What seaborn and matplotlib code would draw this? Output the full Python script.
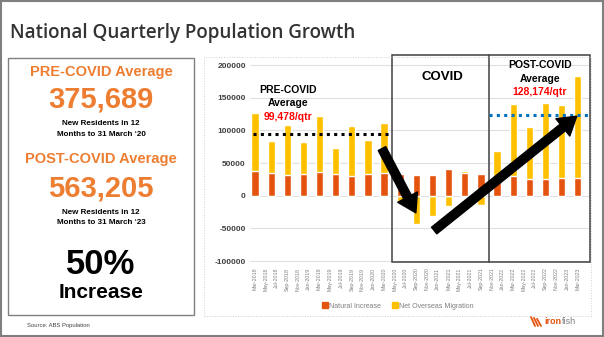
import numpy as np
import pandas as pd
import matplotlib
matplotlib.use("Agg")
import matplotlib.pyplot as plt
import seaborn as sns
from matplotlib.patches import Rectangle, FancyArrowPatch
from matplotlib.lines import Line2D

# ---------------- data ----------------
quarters = ["Mar-2018", "Jun-2018", "Sep-2018", "Dec-2018", "Mar-2019", "Jun-2019",
            "Sep-2019", "Dec-2019", "Mar-2020", "Jun-2020", "Sep-2020", "Dec-2020",
            "Mar-2021", "Jun-2021", "Sep-2021", "Dec-2021", "Mar-2022", "Jun-2022",
            "Sep-2022", "Dec-2022", "Mar-2023"]
natural_increase = [37800, 34700, 31100, 33700, 35700, 32700, 30100, 32700, 34200,
                    33200, 32100, 31600, 41300, 34200, 33200,
                    30600, 29600, 26000, 26000, 27000, 27000]
net_overseas_migration = [88200, 49300, 76600, 48400, 86700, 40300, 76500, 53000, 77000,
                          -10700, -43900, -31100, -15800, 3600, -14800,
                          37300, 110200, 78600, 115300, 111300, 155700]
tick_labels = ["Mar-2018", "May-2018", "Jul-2018", "Sep-2018", "Nov-2018", "Jan-2019",
               "Mar-2019", "May-2019", "Jul-2019", "Sep-2019", "Nov-2019", "Jan-2020",
               "Mar-2020", "May-2020", "Jul-2020", "Sep-2020", "Nov-2020", "Jan-2021",
               "Mar-2021", "May-2021", "Jul-2021", "Sep-2021", "Nov-2021", "Jan-2022",
               "Mar-2022", "May-2022", "Jul-2022", "Sep-2022", "Nov-2022", "Jan-2023",
               "Mar-2023"]
y_ticks = [-100000, -50000, 0, 50000, 100000, 150000, 200000]
pre_covid_avg_label = "99,478/qtr"
post_covid_avg_label = "128,174/qtr"
pre_covid_line_level = 94000
post_covid_line_level = 123000

# ---------------- helpers ----------------
W, H = 604, 337
def fx(px):
    return px / W
def fy(py):
    return 1 - py / H

def month_index(label, origin="Mar-2018"):
    d = pd.to_datetime(label, format="%b-%Y")
    o = pd.to_datetime(origin, format="%b-%Y")
    return (d.year - o.year) * 12 + (d.month - o.month)

q_pos = np.array([month_index(q) for q in quarters], dtype=float)
t_pos = np.array([month_index(t) for t in tick_labels], dtype=float)
nat = np.array(natural_increase, dtype=float)
mig = np.array(net_overseas_migration, dtype=float)
yellow_top = np.where(mig > 0, nat + mig, mig)

df = pd.DataFrame({"pos": q_pos, "nat": nat, "yellow": yellow_top})

ORANGE_RED = "#E4540F"
GOLD = "#FFC000"
PANEL_ORANGE = "#ED7D31"

sns.set_theme(style="white")
plt.rcParams["font.family"] = ["Liberation Sans", "DejaVu Sans"]

fig = plt.figure(figsize=(W / 100, H / 100), dpi=100)
fig.patch.set_facecolor("white")

ax_left, ax_right, ax_top, ax_bottom = 250, 590, 55, 262
ax = fig.add_axes([fx(ax_left), fy(ax_bottom), (ax_right - ax_left) / W, (ax_bottom - ax_top) / H])

sns.barplot(data=df, x="pos", y="yellow", native_scale=True, color=GOLD, saturation=1,
            width=0.45, errorbar=None, ax=ax, zorder=2)
sns.barplot(data=df, x="pos", y="nat", native_scale=True, color=ORANGE_RED, saturation=1,
            width=0.45, errorbar=None, ax=ax, zorder=3)

xmin = (ax_left - 255) / 5.38
xmax = (ax_right - 255) / 5.38
ax.set_xlim(xmin, xmax)
ax.set_ylim(-101500, 215500)
for s in ax.spines.values():
    s.set_visible(False)
ax.set_yticks(y_ticks)
ax.set_yticklabels([str(v) for v in y_ticks], fontsize=6, fontweight="bold", color="#404040")
ax.set_xticks(t_pos)
ax.set_xticklabels(tick_labels, rotation=90, fontsize=3.8, color="#7F7F7F")
ax.tick_params(axis="both", length=0, pad=3)
ax.tick_params(axis="x", pad=4)
ax.set_xlabel("")
ax.set_ylabel("")
for v in y_ticks:
    ax.axhline(v, xmin=0, xmax=1, color="#E0E0E0", lw=0.8, zorder=0)

# COVID box
covid_start = (q_pos[8] + q_pos[9]) / 2
covid_end = (q_pos[14] + q_pos[15]) / 2
ax.add_patch(Rectangle((covid_start, -101500), xmax - covid_start, 215500 + 101500,
                       fill=False, edgecolor="#404040", lw=1.1, zorder=5, clip_on=False))
ax.plot([covid_end, covid_end], [-101500, 215500], color="#404040", lw=1.1, zorder=5, clip_on=False)

# average lines
ax.plot([q_pos[0] - 0.4, covid_start], [pre_covid_line_level] * 2, color="black",
        lw=2.2, ls=(0, (1, 1.4)), zorder=6)
ax.plot([covid_end, xmax], [post_covid_line_level] * 2, color="#0070C0",
        lw=2.2, ls=(0, (1, 1.4)), zorder=6)

# arrows
arrow_style = "simple,head_width=1.0,head_length=0.8,tail_width=0.38"
a1 = FancyArrowPatch((23.6, 72200), (29.9, -26200), arrowstyle=arrow_style,
                     mutation_scale=16, color="black", shrinkA=0, shrinkB=0, zorder=7)
a2 = FancyArrowPatch((33.3, -53300), (59.8, 121700), arrowstyle=arrow_style,
                     mutation_scale=16, color="black", shrinkA=0, shrinkB=0, zorder=7)
ax.add_patch(a1)
ax.add_patch(a2)

# in-chart annotations (figure pixel coords)
fig.text(fx(288), fy(90), "PRE-COVID", ha="center", va="center", fontsize=7.5, fontweight="bold", color="black")
fig.text(fx(288), fy(103), "Average", ha="center", va="center", fontsize=7.5, fontweight="bold", color="black")
fig.text(fx(288), fy(117), pre_covid_avg_label, ha="center", va="center", fontsize=7.5, fontweight="bold", color="#FF0000")
fig.text(fx(442), fy(77), "COVID", ha="center", va="center", fontsize=9.5, fontweight="bold", color="black")
fig.text(fx(540), fy(65), "POST-COVID", ha="center", va="center", fontsize=7.5, fontweight="bold", color="black")
fig.text(fx(540), fy(79), "Average", ha="center", va="center", fontsize=7.5, fontweight="bold", color="black")
fig.text(fx(540), fy(92), post_covid_avg_label, ha="center", va="center", fontsize=7.5, fontweight="bold", color="#FF0000")

# legend
handles = [Rectangle((0, 0), 1, 1, color=ORANGE_RED), Rectangle((0, 0), 1, 1, color=GOLD)]
leg = fig.legend(handles, ["Natural Increase", "Net Overseas Migration"], loc="center",
                 bbox_to_anchor=(fx(398), fy(306)), ncol=2, frameon=False, fontsize=5,
                 handlelength=0.8, handleheight=0.8, handletextpad=0.2, columnspacing=1.6)
for t in leg.get_texts():
    t.set_color("#7F7F7F")

# title
fig.text(fx(10), fy(33), "National Quarterly Population Growth", ha="left", va="center",
         fontsize=13.5, fontweight="semibold", color="#333333", family=["Open Sans", "DejaVu Sans"])

# left panel
cx = 101
fig.text(fx(cx), fy(72), "PRE-COVID Average", ha="center", va="center", fontsize=10.5, color=PANEL_ORANGE, fontweight="bold")
fig.text(fx(cx), fy(100), "375,689", ha="center", va="center", fontsize=21, color=PANEL_ORANGE, fontweight="bold")
fig.text(fx(cx), fy(123), "New Residents in 12", ha="center", va="center", fontsize=5.8, color="black", fontweight="bold")
fig.text(fx(cx), fy(134), "Months to 31 March \u201820", ha="center", va="center", fontsize=5.8, color="black", fontweight="bold")
fig.text(fx(cx), fy(159), "POST-COVID Average", ha="center", va="center", fontsize=10.5, color=PANEL_ORANGE, fontweight="bold")
fig.text(fx(cx), fy(188), "563,205", ha="center", va="center", fontsize=21, color=PANEL_ORANGE, fontweight="bold")
fig.text(fx(cx), fy(212), "New Residents in 12", ha="center", va="center", fontsize=5.8, color="black", fontweight="bold")
fig.text(fx(cx), fy(223), "Months to 31 March \u201823", ha="center", va="center", fontsize=5.8, color="black", fontweight="bold")
fig.text(fx(cx), fy(265), "50%", ha="center", va="center", fontsize=25, color="black", fontweight="bold")
fig.text(fx(cx), fy(293), "Increase", ha="center", va="center", fontsize=15, color="black", fontweight="bold")
fig.text(fx(27), fy(326), "Source: ABS Population", ha="left", va="center", fontsize=4.2, color="#404040")

# boxes / frames
fig.add_artist(Rectangle((fx(8), fy(315)), (194 - 8) / W, (315 - 58) / H, transform=fig.transFigure,
                         fill=False, edgecolor="#808080", lw=1))
fig.add_artist(Rectangle((fx(204), fy(316)), (591 - 204) / W, (316 - 57) / H, transform=fig.transFigure,
                         fill=False, edgecolor="#D0D0D0", lw=0.7, ls=":"))
fig.add_artist(Rectangle((0.001, 0.002), 0.997, 0.995, transform=fig.transFigure,
                         fill=False, edgecolor="#7F7F7F", lw=1.5))

# logo
for dx in (0, 3, 6):
    fig.add_artist(Line2D([fx(531 + dx), fx(535 + dx)], [fy(317 + dx * 0.3), fy(326)],
                          transform=fig.transFigure, color=ORANGE_RED, lw=1.3))
fig.text(fx(544), fy(322), "iron", ha="left", va="center", fontsize=6.5, color=ORANGE_RED, fontweight="bold")
fig.text(fx(562), fy(322), "fish", ha="left", va="center", fontsize=6.5, color="#7F7F7F")

fig.savefig("out.png", dpi=100)
